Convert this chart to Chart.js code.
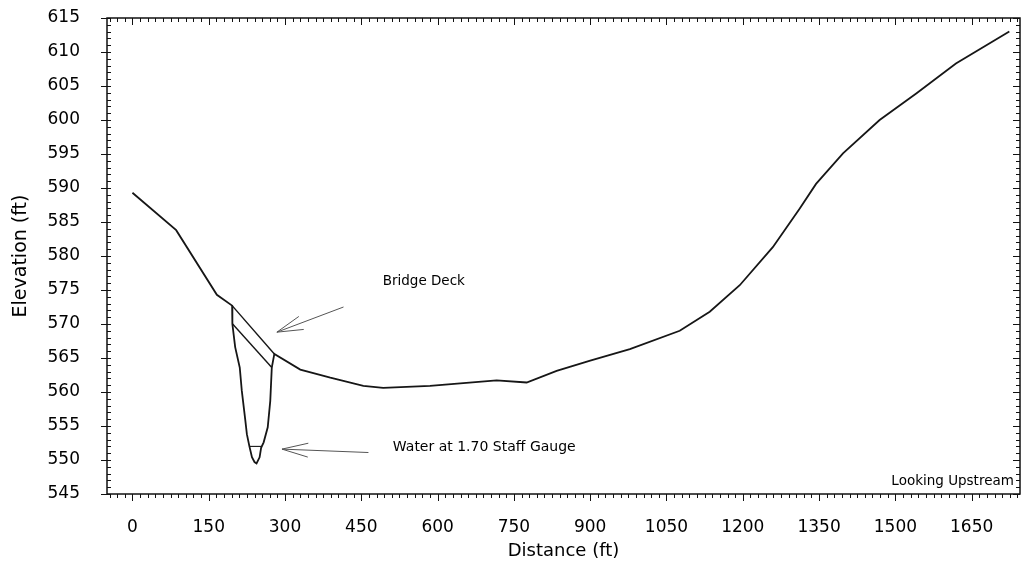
<!DOCTYPE html>
<html>
<head>
<meta charset="utf-8">
<script src="https://cdn.jsdelivr.net/npm/chart.js@4.4.1/dist/chart.umd.min.js"></script>
<style>
  html, body { margin: 0; padding: 0; background: #fff; }
  #wrap { width: 1028px; height: 573px; }
</style>
</head>
<body>
<div id="wrap"><canvas id="myChart"></canvas></div>
<script>
// ground profile (ft)
const groundDist = [0, 86, 166, 196, 196.5, 202, 211, 215, 222, 225, 230, 235, 240, 244, 250, 253, 258, 266, 271, 274, 279,
  330, 389, 454, 493, 585, 716, 775, 834, 900, 978, 1076, 1135, 1194, 1259, 1312, 1344, 1397, 1469, 1541, 1619, 1724];
const groundElev = [589.3, 583.8, 574.3, 572.7, 570.0, 566.6, 563.6, 560.2, 555.8, 553.8, 552.0, 550.4, 549.7, 549.5, 550.4, 551.8, 552.6, 554.8, 558.7, 563.6, 565.6,
  563.3, 562.1, 560.9, 560.6, 560.9, 561.7, 561.4, 563.1, 564.6, 566.3, 569.0, 571.8, 575.7, 581.3, 587.0, 590.6, 595.1, 600.0, 603.9, 608.3, 613.0];

const deckTopDist = [196, 279];
const deckTopElev = [572.7, 565.6];
const deckBottomDist = [197, 274];
const deckBottomElev = [570.0, 563.6];
const waterDist = [229.5, 253.5];
const waterElev = [552.0, 552.0];

const xTicks = [0, 150, 300, 450, 600, 750, 900, 1050, 1200, 1350, 1500, 1650];
const yTicks = [545, 550, 555, 560, 565, 570, 575, 580, 585, 590, 595, 600, 605, 610, 615];

// annotations in data units
const notes = [
  { text: "Bridge Deck", x: 492, y: 576.2, align: "left", size: 13.5 },
  { text: "Water at 1.70 Staff Gauge", x: 512, y: 551.8, align: "left", size: 14 },
  { text: "Looking Upstream", x: 1733, y: 546.9, align: "right", size: 13.5 },
];
const arrows = [
  { from: [415, 572.5], to: [284, 568.8] },
  { from: [464, 551.1], to: [294, 551.6] },
];

const FONT = "'DejaVu Sans', 'Liberation Sans', Arial, sans-serif";
const zip = (xs, ys) => xs.map((x, i) => ({ x: x, y: ys[i] }));

const lineSet = (data, w) => ({
  data: data,
  showLine: true,
  borderColor: "#161616",
  borderWidth: w,
  pointRadius: 0,
  tension: 0,
  fill: false,
});

const frameTicks = {
  id: "frameTicks",
  afterDraw(chart) {
    const { ctx, chartArea: a, scales: { x, y } } = chart;
    ctx.save();
    ctx.strokeStyle = "#111";
    ctx.lineWidth = 1.5;
    ctx.strokeRect(a.left, a.top, a.right - a.left, a.bottom - a.top);
    ctx.lineWidth = 1;
    ctx.beginPath();
    for (let v = -45; v <= x.max; v += 15) {
      const px = Math.round(x.getPixelForValue(v)) + 0.5;
      const major = v % 150 === 0;
      const len = major ? 7 : 4;
      ctx.moveTo(px, a.bottom); ctx.lineTo(px, a.bottom + len);
      ctx.moveTo(px, a.top); ctx.lineTo(px, a.top + len);
    }
    for (let v = y.min; v <= y.max; v += 1) {
      const py = Math.round(y.getPixelForValue(v)) + 0.5;
      const major = v % 5 === 0;
      ctx.moveTo(a.left + 4, py); ctx.lineTo(a.left - (major ? 6 : 0), py);
      ctx.moveTo(a.right - (major ? 7 : 4), py); ctx.lineTo(a.right, py);
    }
    ctx.stroke();

    // arrows
    ctx.strokeStyle = "#555";
    ctx.lineWidth = 1;
    arrows.forEach((ar) => {
      const x0 = x.getPixelForValue(ar.from[0]), y0 = y.getPixelForValue(ar.from[1]);
      const x1 = x.getPixelForValue(ar.to[0]), y1 = y.getPixelForValue(ar.to[1]);
      const ang = Math.atan2(y0 - y1, x0 - x1);
      ctx.beginPath();
      ctx.moveTo(x0, y0); ctx.lineTo(x1, y1);
      ctx.moveTo(x1 + 27 * Math.cos(ang - 0.26), y1 + 27 * Math.sin(ang - 0.26));
      ctx.lineTo(x1, y1);
      ctx.lineTo(x1 + 27 * Math.cos(ang + 0.26), y1 + 27 * Math.sin(ang + 0.26));
      ctx.stroke();
    });

    ctx.fillStyle = "#000";
    ctx.textBaseline = "middle";
    notes.forEach((n) => {
      ctx.font = n.size + "px " + FONT;
      ctx.textAlign = n.align;
      ctx.fillText(n.text, x.getPixelForValue(n.x), y.getPixelForValue(n.y));
    });
    ctx.restore();
  },
};

new Chart(document.getElementById("myChart"), {
  type: "scatter",
  data: {
    datasets: [
      lineSet(zip(groundDist, groundElev), 1.8),
      lineSet(zip(deckTopDist, deckTopElev), 1.4),
      lineSet(zip(deckBottomDist, deckBottomElev), 1.4),
      lineSet(zip(waterDist, waterElev), 1.1),
    ],
  },
  options: {
    responsive: true,
    maintainAspectRatio: false,
    animation: false,
    layout: { padding: { left: 0, right: 8, top: 18, bottom: 0 } },
    plugins: { legend: { display: false }, tooltip: { enabled: false } },
    scales: {
      x: {
        type: "linear",
        min: -50,
        max: 1745,
        afterBuildTicks: (s) => { s.ticks = xTicks.map((v) => ({ value: v })); },
        afterFit: (s) => { s.height = 79; s.paddingLeft = 0; s.paddingRight = 0; },
        grid: { display: false },
        border: { display: false },
        ticks: { color: "#000", font: { family: FONT, size: 17 }, padding: 15, maxRotation: 0, autoSkip: false,
          callback: (v) => String(v) },
        title: { display: true, text: "Distance (ft)", color: "#000", font: { family: FONT, size: 18 }, padding: { top: 4, bottom: 11 } },
      },
      y: {
        type: "linear",
        min: 545,
        max: 615,
        afterBuildTicks: (s) => { s.ticks = yTicks.map((v) => ({ value: v })); },
        afterFit: (s) => { s.width = 107; s.paddingTop = 0; s.paddingBottom = 0; },
        grid: { display: false },
        border: { display: false },
        ticks: { color: "#000", font: { family: FONT, size: 17 }, padding: 19, autoSkip: false,
          callback: (v) => String(v) },
        title: { display: true, text: "Elevation (ft)", color: "#000", font: { family: FONT, size: 19 }, padding: { top: 10, bottom: 4 } },
      },
    },
  },
  plugins: [frameTicks],
});
</script>
</body>
</html>
